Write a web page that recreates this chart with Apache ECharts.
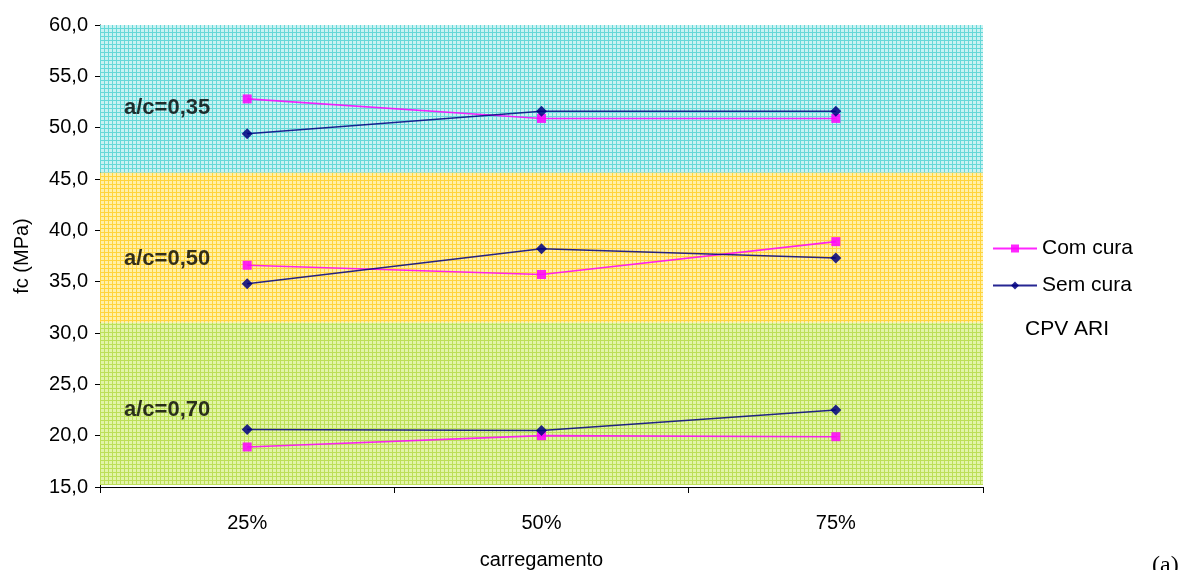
<!DOCTYPE html>
<html>
<head>
<meta charset="utf-8">
<script src="https://cdn.jsdelivr.net/npm/echarts@6/dist/echarts.min.js"></script>
<style>
html,body{margin:0;padding:0;background:#fff;}
#chart{width:1188px;height:570px;}
</style>
</head>
<body>
<div id="chart"></div>
<script>
// ---- data ----
const categories = ['25%', '50%', '75%'];
const groups = ['a/c=0,35', 'a/c=0,50', 'a/c=0,70'];
const comCura035 = [52.8, 50.9, 50.9];
const semCura035 = [49.4, 51.6, 51.6];
const comCura050 = [36.6, 35.7, 38.9];
const semCura050 = [34.8, 38.2, 37.3];
const comCura070 = [18.9, 20.0, 19.9];
const semCura070 = [20.6, 20.5, 22.5];
const bandLimits = [[45.6, 60], [31.0, 45.6], [15.2, 31.0]];
const groupLabelY = [51.9, 37.2, 22.5];
const yTicks = { min: 15, max: 60, step: 5 };

function pattern(bg, line) {
  const c = document.createElement('canvas');
  c.width = 4; c.height = 4;
  const ctx = c.getContext('2d');
  ctx.fillStyle = bg; ctx.fillRect(0, 0, 4, 4);
  ctx.fillStyle = line;
  ctx.fillRect(0, 0, 4, 1);
  ctx.fillRect(0, 0, 1, 4);
  return { image: c, repeat: 'repeat' };
}
const bandFills = [
  pattern('#c8f2f2', '#66d8d8'),
  pattern('#fff0a8', '#ffd43c'),
  pattern('#e2f4a8', '#bcdf58')
];

const chart = echarts.init(document.getElementById('chart'), null, { renderer: 'canvas' });
const FONT = 'Liberation Sans, Arial, sans-serif';

function mkSeries(name, data, color, symbol, size, withBands) {
  const s = {
    name: name, type: 'line', data: data, symbol: symbol, symbolSize: size,
    lineStyle: { color: color, width: 1.6, opacity: 0.85 },
    itemStyle: { color: color, opacity: 0.85 },
    z: 3, animation: false
  };
  if (withBands) {
    s.markArea = {
      silent: true,
      data: bandLimits.map((b, i) => [
        { yAxis: b[0], itemStyle: { color: bandFills[i] } },
        { yAxis: b[1] }
      ])
    };
  }
  return s;
}

const com = [comCura035, comCura050, comCura070];
const sem = [semCura035, semCura050, semCura070];
const series = [];
com.forEach((d, i) => series.push(mkSeries('Com cura', d, '#ff00ff', 'rect', 9, i === 0)));
sem.forEach((d) => series.push(mkSeries('Sem cura', d, '#000080', 'diamond', 11, false)));

// group labels as scatter text, placed via the axes
series.push({
  type: 'scatter', symbolSize: 0, silent: true, animation: false,
  xAxisIndex: 1, yAxisIndex: 0,
  data: groups.map((g, i) => ({ value: [0, groupLabelY[i]], name: g })),
  label: {
    show: true, position: 'right', formatter: p => p.name,
    fontFamily: FONT, fontWeight: 'bold', fontSize: 22, color: '#000', offset: [19, 0]
  }
});

chart.setOption({
  backgroundColor: '#fff',
  animation: false,
  grid: { left: 100, right: 205, top: 25, bottom: 83, containLabel: false, outerBoundsMode: 'none' },
  legend: {
    data: ['Com cura', 'Sem cura'],
    orient: 'vertical', left: 987, top: 233,
    itemWidth: 44, itemHeight: 10, itemGap: 16,
    textStyle: { fontFamily: FONT, fontSize: 21, color: '#000' },
    selectedMode: false
  },
  xAxis: [{
    type: 'category', data: categories, boundaryGap: true,
    name: 'carregamento', nameLocation: 'middle', nameGap: 63,
    nameTextStyle: { fontFamily: FONT, fontSize: 20, color: '#000' },
    axisLine: { lineStyle: { color: '#000', width: 1 } },
    axisTick: { show: true, length: 6, lineStyle: { color: '#000' } },
    axisLabel: { fontFamily: FONT, fontSize: 20, color: '#000', margin: 26 },
    splitLine: { show: false }
  }, {
    type: 'value', min: 0, max: 10, show: false
  }],
  yAxis: {
    type: 'value', min: yTicks.min, max: yTicks.max, interval: yTicks.step,
    name: 'fc (MPa)', nameLocation: 'middle', nameGap: 68, nameRotate: 90,
    nameTextStyle: { fontFamily: FONT, fontSize: 20, color: '#000' },
    axisLine: { show: true, lineStyle: { color: '#000', width: 1 } },
    axisTick: { show: true, length: 5, lineStyle: { color: '#000' } },
    axisLabel: { fontFamily: FONT, fontSize: 20, color: '#000', margin: 12,
      formatter: v => v.toFixed(1).replace('.', ',') },
    splitLine: { show: false }
  },
  graphic: [
    { type: 'text', left: 1025, top: 319,
      style: { text: 'CPV ARI', font: '21px ' + FONT, fill: '#000' } },
    { type: 'text', left: 1152, top: 554,
      style: { text: '(a)', font: '24px "Liberation Serif", serif', fill: '#000' } }
  ],
  series: series
});
</script>
</body>
</html>
